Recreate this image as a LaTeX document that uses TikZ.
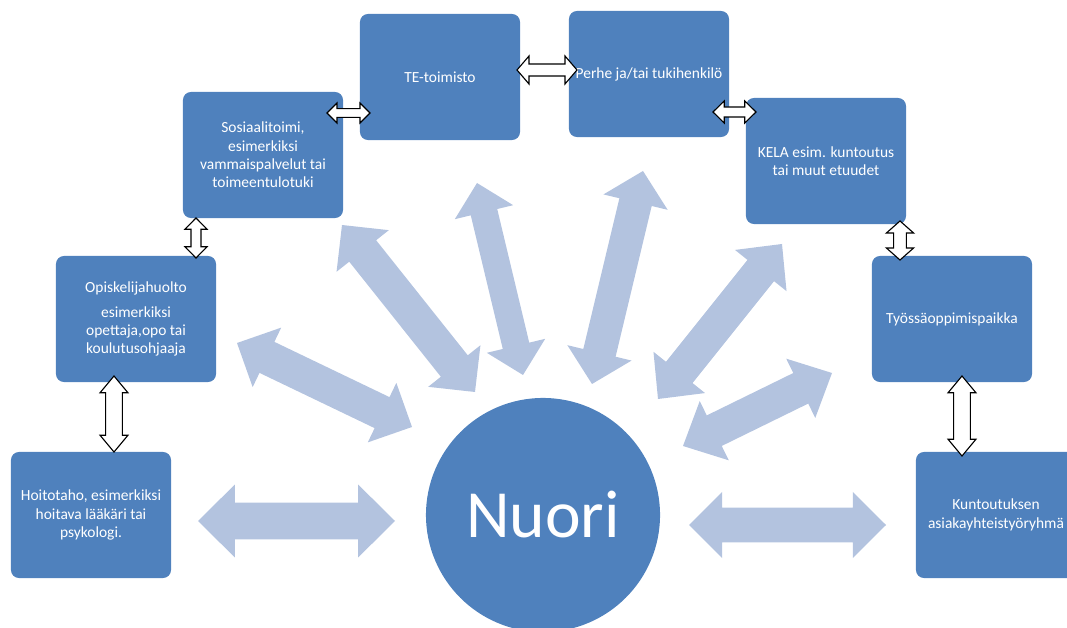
\documentclass[tikz,border=0pt]{standalone}
\usepackage{fontspec}
\setmainfont{Carlito}
\usepackage{tikz}
\usetikzlibrary{calc}

\definecolor{boxblue}{RGB}{79,129,189}
\definecolor{arrowblue}{RGB}{179,195,223}

\tikzset{
  box/.style={rectangle, rounded corners=0.2cm, fill=boxblue, text=white,
    minimum width=4cm, minimum height=3.15cm, align=center,
    font=\fontsize{11}{13}\selectfont},
  bigarrow/.style={fill=arrowblue},
  smallarrow/.style={fill=white, draw=black, line width=0.8pt},
}

% double block arrow: style, from, to, shaft width, head width, head length
\newcommand{\dblarrow}[6]{%
  \path[#1] (#2)
    -- ($(#2)!#6!(#3)!#5/2!90:(#3)$) -- ($(#2)!#6!(#3)!#4/2!90:(#3)$)
    -- ($(#3)!#6!(#2)!#4/2!-90:(#2)$) -- ($(#3)!#6!(#2)!#5/2!-90:(#2)$)
    -- (#3)
    -- ($(#3)!#6!(#2)!#5/2!90:(#2)$) -- ($(#3)!#6!(#2)!#4/2!90:(#2)$)
    -- ($(#2)!#6!(#3)!#4/2!-90:(#3)$) -- ($(#2)!#6!(#3)!#5/2!-90:(#3)$)
    -- cycle;}

\begin{document}
\begin{tikzpicture}[x=0.025cm, y=-0.025cm]
  \useasboundingbox (0,0) rectangle (1067,628);
  \clip (0,0) rectangle (1067,628);

  % ends of the light arrows
  \coordinate (b1a) at (198,521);  \coordinate (b1b) at (395,521);
  \coordinate (b2a) at (689,525);  \coordinate (b2b) at (886,525);
  \coordinate (b3a) at (237,343);  \coordinate (b3b) at (412,427);
  \coordinate (b4a) at (342,225);  \coordinate (b4b) at (475,392);
  \coordinate (b5a) at (477,183);  \coordinate (b5b) at (523,375);
  \coordinate (b6a) at (643,171);  \coordinate (b6b) at (592,384);
  \coordinate (b7a) at (782,244);  \coordinate (b7b) at (658,399);
  \coordinate (b8a) at (832,373);  \coordinate (b8b) at (683,446);

  \dblarrow{bigarrow}{b1a}{b1b}{0.92cm}{1.82cm}{0.92cm}
  \dblarrow{bigarrow}{b2a}{b2b}{0.87cm}{1.65cm}{0.83cm}
  \dblarrow{bigarrow}{b3a}{b3b}{0.86cm}{1.65cm}{0.83cm}
  \dblarrow{bigarrow}{b4a}{b4b}{0.86cm}{1.67cm}{0.83cm}
  \dblarrow{bigarrow}{b5a}{b5b}{0.68cm}{1.5cm}{0.75cm}
  \dblarrow{bigarrow}{b6a}{b6b}{0.83cm}{1.65cm}{0.8cm}
  \dblarrow{bigarrow}{b7a}{b7b}{0.85cm}{1.65cm}{0.85cm}
  \dblarrow{bigarrow}{b8a}{b8b}{0.85cm}{1.65cm}{0.87cm}

  \node[circle, fill=boxblue, text=white, minimum size=5.85cm, inner sep=0pt,
    font=\fontsize{48}{58}\selectfont] (nuori) at (543,515) {Nuori};

  \node[box] (hoito) at (91,515) {Hoitotaho, esimerkiksi\\hoitava lääkäri tai\\psykologi.};
  \node[box] (opisk) at (136,319) {Opiskelijahuolto\\[5pt]esimerkiksi\\opettaja,opo tai\\koulutusohjaaja};
  \node[box] (sosiaali) at (263,155) {Sosiaalitoimi,\\esimerkiksi\\vammaispalvelut tai\\toimeentulotuki};
  \node[box] (te) at (440,77) {TE-toimisto};
  \node[box] (perhe) at (649,74) {Perhe ja/tai tukihenkilö};
  \node[box] (kela) at (826,161) {KELA esim. kuntoutus\\tai muut etuudet};
  \node[box] (tyossa) at (952,319) {Työssäoppimispaikka};
  \node[box] (kuntoutus) at (996,515) {Kuntoutuksen\\asiakayhteistyöryhmä};

  % ends of the outlined arrows
  \coordinate (s1a) at (327,113);  \coordinate (s1b) at (370,113);
  \coordinate (s2a) at (517,70);   \coordinate (s2b) at (577,70);
  \coordinate (s3a) at (713,112);  \coordinate (s3b) at (756,112);
  \coordinate (s4a) at (196,218);  \coordinate (s4b) at (196,258);
  \coordinate (s5a) at (114,376);  \coordinate (s5b) at (114,452);
  \coordinate (s6a) at (900,221);  \coordinate (s6b) at (900,260);
  \coordinate (s7a) at (962,376);  \coordinate (s7b) at (962,456);

  \dblarrow{smallarrow}{s1a}{s1b}{0.22cm}{0.5cm}{0.25cm}
  \dblarrow{smallarrow}{s2a}{s2b}{0.3cm}{0.7cm}{0.3cm}
  \dblarrow{smallarrow}{s3a}{s3b}{0.25cm}{0.55cm}{0.28cm}
  \dblarrow{smallarrow}{s4a}{s4b}{0.25cm}{0.55cm}{0.28cm}
  \dblarrow{smallarrow}{s5a}{s5b}{0.42cm}{0.7cm}{0.42cm}
  \dblarrow{smallarrow}{s6a}{s6b}{0.32cm}{0.68cm}{0.3cm}
  \dblarrow{smallarrow}{s7a}{s7b}{0.42cm}{0.7cm}{0.42cm}
\end{tikzpicture}
\end{document}
